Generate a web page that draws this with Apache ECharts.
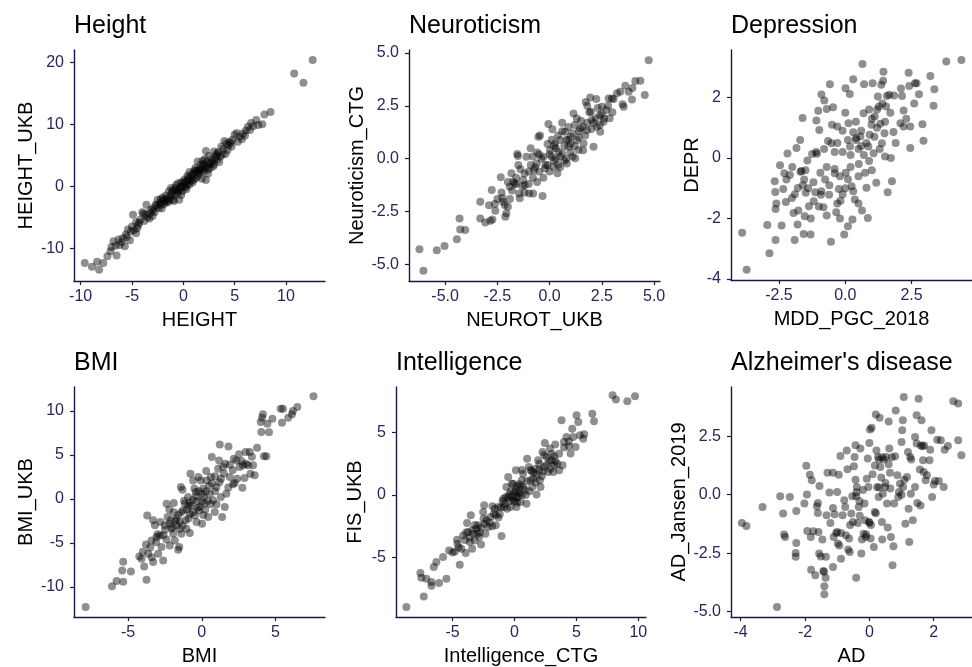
<!DOCTYPE html>
<html>
<head>
<meta charset="utf-8">
<script src="https://cdn.jsdelivr.net/npm/echarts@6/dist/echarts.min.js"></script>
<style>
  html, body { margin: 0; padding: 0; background: #fff; }
  #chart { width: 972px; height: 667px; }
</style>
</head>
<body>
<div id="chart"></div>
<script>
// panel titles and axis names
var panelTitles = ['Height', 'Neuroticism', 'Depression', 'BMI', 'Intelligence', "Alzheimer's disease"];
var xNames = ['HEIGHT', 'NEUROT_UKB', 'MDD_PGC_2018', 'BMI', 'Intelligence_CTG', 'AD'];
var yNames = ['HEIGHT_UKB', 'Neuroticism_CTG', 'DEPR', 'BMI_UKB', 'FIS_UKB', 'AD_Jansen_2019'];

// tick values
var xTicks = [[-10, -5, 0, 5, 10], [-5, -2.5, 0, 2.5, 5], [-2.5, 0, 2.5], [-5, 0, 5], [-5, 0, 5, 10], [-4, -2, 0, 2]];
var yTicks = [[-10, 0, 10, 20], [-5, -2.5, 0, 2.5, 5], [-4, -2, 0, 2], [-10, -5, 0, 5, 10], [-5, 0, 5], [-5, -2.5, 0, 2.5]];
var xDecimals = [0, 1, 1, 0, 0, 0];
var yDecimals = [0, 1, 0, 0, 0, 1];

// points
var heightPts = [
  [12.6,20.4],[10.8,18.2],[11.7,16.7],[8.5,12.0],[7.9,11.6],[7.1,10.7],[7.7,10.0],[6.3,9.6],[6.8,9.7],[7.3,9.9],[6.6,10.2],
  [5.0,8.3],[5.8,8.5],[5.5,8.0],[5.2,8.6],[6.0,8.2],[5.7,7.6],[4.2,6.9],[3.7,6.4],[4.5,7.2],[4.8,7.5],[4.0,7.3],[4.4,6.6],
  [3.9,6.0],[3.4,5.5],[3.2,5.0],[3.6,4.8],[3.0,5.6],[2.8,4.4],[2.5,4.9],[2.2,5.7],[2.6,3.6],[2.3,3.2],[1.9,4.1],[1.7,3.5],
  [1.5,2.7],[1.2,3.0],[1.0,2.2],[1.4,1.6],[2.0,2.4],[2.4,2.0],[1.8,1.2],[0.8,1.4],[0.5,1.0],[0.6,2.3],[0.2,0.4],[0.0,0.0],
  [-0.3,-0.2],[0.3,-0.5],[-0.5,0.5],[-0.8,-0.3],[-1.1,-1.0],[-0.6,-1.2],[-1.4,-0.8],[-1.0,-2.2],[-1.7,-1.5],[-2.0,-2.4],
  [-2.3,-2.7],[-1.5,-2.6],[-2.6,-3.1],[-2.1,-3.6],[-2.8,-4.2],[-3.2,-3.8],[-3.3,-5.2],[-3.7,-4.6],[-4.2,-5.4],[-3.9,-4.4],
  [-4.9,-4.6],[-4.6,-5.8],[-4.4,-6.3],[-4.8,-7.1],[-5.4,-7.0],[-4.6,-7.6],[-5.2,-8.7],[-5.9,-8.4],[-5.7,-9.7],[-6.2,-9.5],
  [-6.8,-8.9],[-7.1,-10.5],[-6.5,-11.2],[-7.4,-11.3],[-7.8,-12.4],[-8.4,-12.2],[-8.2,-13.5],[-8.9,-13.0],[-9.6,-12.4],
  [-6.3,-8.6],[-5.6,-7.8],[-5.1,-7.3],[0.9,0.6],[1.3,2.5],[1.6,2.0],[1.1,1.9],[0.4,0.2],[0.7,0.9],[-0.1,-0.8],[-0.2,0.6],
  [0.1,1.1],[-0.4,-0.6],[-0.9,-1.5],[-1.3,-1.9],[-1.6,-2.0],[-1.9,-2.9],[-2.4,-3.5],[-2.7,-3.0],[-3.0,-4.0],[-3.5,-5.0],
  [2.1,3.0],[2.7,3.8],[2.9,4.0],[3.1,4.6],[1.4,4.0],[2.1,4.4],[0.4,1.7],[-0.7,0.2],[-1.2,-0.3],[-2.0,-1.8],[-0.9,-2.4],
  [3.5,3.9],[4.1,5.2],[4.7,6.4],[-3.6,-3.0],[-4.0,-4.2],[-0.4,-2.2],[2.2,1.0],
  [-2.2,-2.1],[-1.8,-2.2],[-1.2,-1.4],[-0.7,-0.7],[-0.2,-0.1],[0.3,0.8],[0.8,1.9],[1.2,1.3],[1.7,2.6],[2.3,3.9],[2.6,2.9],
  [3.0,3.5],[3.3,4.3],[3.8,5.1],[4.3,5.8],[4.6,7.0],[5.3,7.2],[6.1,9.0],[6.5,9.1],[-3.3,-4.4],[-3.8,-5.6],[-4.3,-5.9],
  [-5.0,-6.5],[-5.5,-8.2],[-6.0,-9.0],[-6.6,-9.6],[-7.0,-9.8],[-2.9,-3.5],[-2.5,-2.2],[-1.4,-2.3],[-0.5,-0.9],[0.0,0.7],
  [0.6,0.3],[1.0,1.0],[1.5,2.3],[1.9,3.3],[2.4,2.7],[-1.0,-0.6],[-1.7,-2.6],[0.2,-0.2],[1.8,2.8],[2.0,3.6],[2.9,3.2],
  [3.3,5.3],[-3.0,-4.8],[-4.5,-6.8],[-0.2,-1.4],[0.5,1.4],[1.1,2.6],[-2.2,-3.0]
];
var neuroPts = [
  [-6.23,-4.28],[-6.04,-5.29],[-5.4,-4.33],[-5.03,-4.13],[-4.44,-3.81],[-4.31,-2.82],[-4.28,-3.34],[-4.04,-3.37],
  [-3.32,-2.03],[-3.32,-2.82],[-3.08,-3.02],[-2.84,-2.93],[-2.74,-2.87],[-2.77,-1.48],[-2.62,-2.14],[-2.6,-2.46],
  [-2.34,-0.88],[-2.26,-1.86],[-2.23,-2.03],[-2.15,-2.19],[-2.07,-2.58],[-2.12,-2.74],[-2.0,-2.27],[-1.91,-1.32],
  [-1.83,-0.69],[-1.75,-1.09],[-1.67,-1.17],[-1.55,0.22],[-1.52,0.13],[-1.46,-1.64],[-1.43,-1.87],[-1.27,-1.01],
  [-1.19,-1.24],[-1.11,0.09],[-0.98,-1.64],[-0.91,0.5],[-0.79,-1.64],[-0.75,-0.54],[-0.62,-0.22],[-0.54,1.04],
  [-0.46,1.1],[-0.34,-1.76],[-0.3,0.09],[-0.22,-0.46],[-0.06,1.64],[0.02,0.41],[0.1,0.09],[0.13,1.39],[0.18,-0.38],
  [0.26,0.72],[0.37,-0.69],[0.42,0.33],[0.5,0.88],[0.61,0.25],[0.74,1.28],[0.82,-0.22],[0.9,0.57],[1.01,1.04],
  [1.14,2.14],[1.22,0.02],[1.3,0.88],[1.38,0.41],[1.46,1.43],[1.62,0.72],[1.73,2.68],[1.78,1.35],[1.94,2.9],[1.97,2.22],
  [2.02,1.83],[2.1,0.57],[2.23,2.82],[2.26,1.51],[2.39,2.06],[2.42,1.28],[2.5,2.46],[2.58,1.75],[2.71,2.3],[2.82,2.85],
  [2.87,1.91],[2.98,2.85],[3.06,2.82],[3.22,3.09],[3.38,3.17],[3.49,2.57],[3.54,2.46],[3.62,3.45],[3.78,3.17],[3.94,2.8],
  [3.96,3.34],[4.1,3.67],[4.34,3.69],[4.55,3.01],[4.74,4.66],
  [0.0,0.2],[0.3,0.5],[-0.2,-0.3],[0.5,0.1],[0.7,0.6],[-0.5,-0.6],[0.2,-0.1],[0.9,0.9],[1.1,1.2],[-0.8,-0.9],[-1.0,-0.6],
  [-1.3,-1.3],[1.6,1.5],[1.8,1.7],[2.0,1.4],[0.6,1.3],[-0.1,0.7],[-0.4,0.0],[1.4,1.0],[-1.6,-1.2],[-1.2,-0.7],[0.4,-0.3],
  [1.0,0.3],[-0.6,0.3],[2.2,1.9],[2.5,2.1],[1.5,1.8],[-1.8,-1.5],[-2.0,-1.1],[-0.9,-0.3],[0.8,0.0],[1.2,0.6],
  [-2.3,-1.6],[-1.9,-1.9],[-1.6,-0.9],[-1.4,-0.5],[-1.0,-1.2],[-0.7,-0.4],[-0.5,0.2],[-0.3,-0.9],[-0.1,-0.3],[0.1,0.9],
  [0.3,0.0],[0.5,-0.4],[0.6,1.7],[0.8,0.9],[1.0,0.7],[1.2,1.6],[1.4,1.3],[1.7,1.1],[1.9,2.2],[2.1,1.7],[2.3,2.4],[2.6,1.9],
  [2.8,2.5],[3.0,2.2],[-1.2,-1.6],[-0.8,0.1],[0.0,-0.6],[0.4,1.1],[1.1,0.1],[1.6,0.4],[-2.5,-1.9],[-2.9,-2.2],[0.7,-0.1],
  [1.3,1.9],[-0.6,-1.1],[-1.5,-0.3],[0.2,0.6],[0.9,1.5],[1.8,2.5],[2.4,1.6]
];
var deprPts = [
  [-3.89,-2.47],[-3.72,-3.69],[-2.94,-2.21],[-2.86,-3.15],[-2.66,-0.77],[-2.64,-1.12],[-2.63,-1.68],[-2.63,-2.71],
  [-2.4,-2.23],[-2.46,-0.24],[-2.34,-1.02],[-2.24,-1.45],[-2.18,0.15],[-2.22,-0.71],[-2.09,-0.56],[-2.01,-1.32],
  [-1.95,-1.82],[-1.91,-2.71],[-1.84,0.33],[-1.79,-0.99],[-1.77,-1.73],[-1.69,-0.45],[-1.65,-0.43],[-1.61,1.32],
  [-1.57,-2.51],[-1.55,-0.71],[-1.53,-1.92],[-1.49,-1.15],[-1.43,-0.08],[-1.37,-1.59],[-1.31,-2.53],[-1.25,0.13],
  [-1.19,-1.43],[-1.13,-1.13],[-1.09,1.24],[-1.07,0.14],[-1.02,1.56],[-0.98,0.93],[-0.94,-0.49],[-0.92,-1.21],
  [-0.82,-1.63],[-0.79,1.9],[-0.76,-0.71],[-0.7,1.62],[-0.65,0.56],[-0.61,-1.21],[-0.58,2.44],[-0.54,-2.77],[-0.52,0.49],
  [-0.46,1.68],[-0.4,-0.36],[-0.34,-1.79],[-0.3,1.04],[-0.24,-1.02],[-0.18,-1.41],[-0.1,0.9],[-0.04,-2.53],[0.01,2.31],
  [0.02,-0.49],[0.1,-2.25],[0.12,1.15],[0.17,2.12],[0.18,0.38],[0.24,-0.93],[0.27,-2.03],[0.3,0.85],[0.36,-1.37],
  [0.41,0.66],[0.51,-0.2],[0.57,0.71],[0.63,-1.73],[0.65,3.11],[0.69,1.48],[0.71,2.44],[0.75,-0.49],[0.8,-0.98],
  [0.85,-1.98],[0.87,0.38],[0.92,0.77],[0.99,1.1],[1.03,2.47],[1.07,0.16],[1.11,1.37],[1.17,-0.82],[1.23,2.03],[1.27,1.7],
  [1.32,1.13],[1.36,2.42],[1.38,0.49],[1.43,2.55],[1.44,2.85],[1.48,0.82],[1.5,0.05],[1.54,1.7],[1.57,2.05],[1.6,-1.13],
  [1.66,2.09],[1.72,0.0],[1.76,-0.77],[1.82,0.86],[1.84,2.07],[2.08,1.15],[2.14,2.05],[2.2,1.57],[2.2,1.04],[2.39,2.82],
  [2.41,2.38],[2.45,1.04],[2.45,0.33],[2.63,2.47],[2.69,2.47],[2.78,2.11],[2.91,1.12],[2.95,0.57],[3.21,2.71],[3.33,1.73],
  [3.36,2.27],[3.81,3.19],[4.38,3.24],
  [0.4,0.6],[0.5,0.3],[0.2,0.1],[0.6,0.9],[-0.2,-0.6],[0.0,-1.0],[0.1,-0.7],[-0.1,-1.2],[0.3,-1.1],[-0.4,0.2],[-0.7,-0.3],
  [1.2,1.6],[1.0,1.3],[1.4,1.8],[0.8,0.5],[-1.1,0.2],[-1.4,-1.0],[-0.9,-1.1],[0.9,-0.1],[-0.3,-1.5],
  [-2.0,-0.3],[-1.7,0.6],[-1.5,-0.4],[-1.2,-0.8],[-1.0,-1.6],[-0.8,0.3],[-0.6,-0.9],[-0.5,1.1],[-0.3,0.5],[-0.1,0.2],
  [0.0,1.5],[0.2,-0.3],[0.4,1.2],[0.5,-0.6],[0.7,0.1],[0.9,1.6],[1.1,0.7],[1.3,0.3],[1.5,1.2],[1.7,1.5],[1.9,0.5],
  [2.1,2.3],[2.3,1.3],[-2.3,-0.5],[-2.6,-1.5],[-1.9,-1.2],[-1.3,-2.0],[-0.7,-1.9],[-0.2,-2.0],[0.5,-1.5],[1.0,-0.4],
  [0.3,2.6],[-0.9,2.1],[-1.8,-2.2],[2.6,1.8],[1.2,1.0],[0.1,0.6],[-0.4,-0.5],[0.6,0.4],[-1.6,-0.9]
];
var bmiPts = [
  [-7.88,-12.27],[-6.09,-9.92],[-5.78,-9.32],[-5.33,-9.39],[-5.4,-8.11],[-5.33,-7.12],[-4.81,-8.22],[-4.24,-6.52],
  [-4.09,-6.78],[-3.91,-7.65],[-3.75,-9.17],[-3.79,-5.15],[-3.7,-1.86],[-3.63,-6.21],[-3.41,-4.7],[-3.3,-2.42],
  [-3.3,-7.16],[-3.18,-2.99],[-3.07,-4.32],[-2.96,-6.21],[-2.84,-4.13],[-2.73,-5.45],[-2.62,-6.97],[-2.51,-2.99],
  [-2.39,-0.53],[-2.32,-2.05],[-2.17,-5.27],[-2.05,-3.37],[-1.94,-3.94],[-1.9,-0.45],[-1.83,-4.7],[-1.72,-2.23],
  [-1.6,-5.76],[-1.53,-5.45],[-1.49,-2.61],[-1.42,1.36],[-1.38,-3.94],[-1.31,1.06],[-1.26,-1.29],[-1.15,-0.53],
  [-1.04,-3.37],[-0.93,0.23],[-0.81,-3.86],[-0.77,2.88],[-0.7,-0.72],[-0.59,2.12],[-0.47,-1.86],[-0.41,0.8],[-0.36,-2.61],
  [-0.23,2.5],[-0.14,-0.91],[-0.07,2.12],[0.02,-2.8],[0.09,1.17],[0.14,0.23],[0.23,-1.21],[0.32,2.12],[0.43,-2.05],
  [0.54,0.61],[0.61,2.5],[0.68,4.77],[0.77,-0.15],[0.88,-1.48],[0.99,1.36],[1.11,3.45],[1.17,4.39],[1.22,6.21],[1.29,0.23],
  [1.38,-2.05],[1.44,3.64],[1.56,-0.91],[1.67,0.61],[1.81,5.98],[1.9,2.5],[2.12,1.67],[2.17,4.58],[2.23,1.82],[2.35,4.39],
  [2.53,5.08],[2.57,3.64],[2.75,1.29],[2.8,3.83],[2.98,5.34],[3.14,3.83],[3.25,5.34],[3.3,2.88],[3.48,3.83],[3.59,2.69],
  [3.75,5.83],[4.0,8.75],[4.04,7.61],[4.09,9.24],[4.15,9.62],[4.22,4.85],[4.38,4.85],[4.45,8.56],[4.56,7.58],[4.79,9.13],
  [5.35,10.27],[5.44,8.67],[5.51,10.27],[5.87,9.24],[6.12,9.62],[6.18,10.0],[6.48,10.45],[7.58,11.67],
  [-1.0,-1.2],[-0.6,-1.5],[-0.3,-0.2],[-1.8,-2.5],[-2.2,-2.8],[-1.6,-1.8],[-0.9,-2.2],[0.2,-0.5],[-0.4,0.3],[0.5,1.5],
  [0.9,2.6],[-2.6,-4.1],[-3.1,-4.9],[-2.0,-3.2],[-1.3,-3.0],[0.0,0.6],[1.3,2.3],[0.3,3.2],[-0.2,-1.3],[-0.8,-0.4],
  [-3.0,-4.0],[-2.5,-3.5],[-2.1,-2.4],[-1.7,-3.0],[-1.4,-1.5],[-1.1,-2.4],[-0.9,-0.8],[-0.6,-0.1],[-0.3,-1.0],[0.0,-0.3],
  [0.3,0.9],[0.6,-0.6],[0.9,0.9],[1.2,1.9],[1.5,2.9],[1.8,1.3],[2.1,3.3],[2.4,2.3],[2.7,4.3],[3.0,4.0],[3.4,4.8],
  [-4.0,-6.0],[-3.5,-5.5],[-2.8,-2.6],[-2.4,-4.6],[-1.9,-1.5],[-1.2,-0.2],[-0.5,1.2],[0.1,-1.8],[0.7,1.8],[1.0,-0.6],
  [1.6,4.0],[-0.8,-1.7],[-1.5,-3.4],[0.4,-0.2],[1.9,3.9],[-2.2,-1.2],[-0.2,0.9],[2.9,2.4],[-3.4,-6.6]
];
var intelPts = [
  [-8.73,-8.98],[-7.33,-8.13],[-7.6,-6.26],[-7.52,-6.63],[-7.12,-6.71],[-6.71,-6.98],[-6.71,-7.27],[-6.52,-5.78],
  [-6.31,-5.37],[-6.09,-7.06],[-5.77,-4.97],[-5.5,-6.71],[-5.28,-4.44],[-4.82,-4.52],[-4.64,-3.58],[-4.42,-5.59],
  [-4.29,-4.3],[-4.15,-3.24],[-3.94,-4.65],[-3.83,-2.25],[-3.75,-2.97],[-3.61,-3.77],[-3.53,-1.63],[-3.42,-4.3],
  [-3.34,-3.1],[-3.21,-3.64],[-3.07,-2.7],[-2.94,-2.43],[-2.86,-3.37],[-2.7,-3.96],[-2.53,-1.36],[-2.45,-0.83],
  [-2.35,-3.1],[-2.26,-2.03],[-2.13,-2.57],[-1.94,-1.76],[-1.78,-0.91],[-1.67,-1.5],[-1.51,-2.43],[-1.32,-0.96],
  [-1.19,-1.55],[-1.05,-3.29],[-0.97,-0.48],[-0.84,-0.96],[-0.7,-0.16],[-0.65,0.64],[-0.51,1.44],[-0.43,0.05],
  [-0.32,-0.96],[-0.22,0.91],[-0.11,-0.37],[0.0,0.24],[0.11,1.98],[0.16,-0.96],[0.27,-0.16],[0.38,0.86],[0.49,-0.56],
  [0.59,1.18],[0.7,1.71],[0.84,0.43],[0.97,-0.7],[1.02,2.91],[1.16,2.25],[1.29,1.18],[1.43,0.64],[1.56,1.76],[1.7,2.11],
  [1.78,0.05],[1.91,2.78],[2.05,1.18],[2.1,0.64],[2.26,3.45],[2.37,2.25],[2.45,4.17],[2.59,3.05],[2.72,1.84],[2.86,3.72],
  [2.99,2.78],[3.13,1.84],[3.21,2.38],[3.29,4.06],[3.45,2.51],[3.61,1.98],[3.8,5.99],[3.88,2.38],[3.99,4.25],[4.2,4.65],
  [4.39,3.9],[4.53,3.32],[4.66,5.32],[4.74,4.65],[4.93,3.85],[5.01,6.39],[5.15,5.86],[5.28,4.79],[5.55,4.52],[5.63,4.87],
  [6.28,6.52],[6.42,5.91],[7.92,7.99],[8.19,7.65],[9.11,7.51],[9.73,7.91],
  [0.1,0.4],[-0.2,-0.1],[0.3,0.2],[-0.4,-0.5],[0.5,0.7],[0.2,-0.6],[-0.1,0.9],[0.6,0.0],[1.8,1.6],[2.0,2.0],[2.2,1.5],
  [2.8,2.7],[3.2,3.1],[-3.0,-3.1],[-3.4,-2.8],[-2.7,-2.6],[-1.5,-1.6],[-1.1,-1.0],[-0.9,-0.3],[1.4,1.9],
  [-4.5,-4.2],[-4.0,-3.6],[-3.6,-3.4],[-3.2,-2.4],[-2.8,-3.0],[-2.4,-2.3],[-2.0,-2.2],[-1.6,-1.1],[-1.3,-1.8],[-0.8,-0.7],
  [-0.5,-0.2],[-0.3,0.3],[0.0,-0.5],[0.2,0.7],[0.4,0.1],[0.7,0.6],[1.0,1.1],[1.2,0.3],[1.5,1.3],[1.7,1.0],[2.0,2.5],
  [2.3,1.9],[2.6,2.4],[2.9,2.1],[3.3,2.7],[3.6,3.3],[4.0,3.8],[4.4,4.3],[-5.0,-4.6],[-3.9,-3.0],[-2.5,-1.9],[-1.8,-2.5],
  [-0.6,-1.1],[0.1,-0.2],[0.6,2.0],[1.3,2.0],[2.4,3.2],[-4.6,-3.9],[0.9,0.0],[3.0,3.3]
];
var adPts = [
  [-3.96,-1.21],[-3.82,-1.34],[-3.32,-0.53],[-2.77,-0.07],[-2.68,-0.81],[-2.65,-1.7],[-2.62,-1.81],[-2.47,-0.1],
  [-2.27,-0.7],[-2.27,-2.07],[-2.29,-2.49],[-2.29,-2.66],[-2.02,-0.38],[-1.96,1.23],[-1.94,0.01],[-1.93,-1.55],
  [-1.85,0.85],[-1.82,-1.81],[-1.81,-3.21],[-1.79,0.61],[-1.74,-1.57],[-1.68,-3.45],[-1.63,-0.5],[-1.6,-0.78],
  [-1.6,-0.36],[-1.58,-1.6],[-1.56,-2.52],[-1.55,0.37],[-1.51,-2.64],[-1.46,-1.92],[-1.43,-3.26],[-1.41,-3.3],
  [-1.4,-3.92],[-1.4,-4.26],[-1.36,-3.55],[-1.35,-2.66],[-1.33,-0.88],[-1.3,0.94],[-1.24,0.09],[-1.21,-1.21],
  [-1.13,-0.57],[-1.13,-3.09],[-1.13,0.93],[-1.11,-1.81],[-1.08,-0.84],[-1.03,-1.64],[-1.0,0.11],[-0.98,-2.09],
  [-0.95,0.85],[-0.93,-2.17],[-0.9,1.65],[-0.88,-2.74],[-0.88,-1.64],[-0.83,-0.88],[-0.78,-0.24],[-0.75,-0.53],
  [-0.73,-1.74],[-0.7,1.89],[-0.68,1.08],[-0.66,-2.35],[-0.63,-1.88],[-0.61,-2.45],[-0.56,-0.81],[-0.53,-0.07],
  [-0.51,-1.17],[-0.48,1.21],[-0.46,1.61],[-0.43,2.11],[-0.43,0.64],[-0.41,-0.07],[-0.41,-3.55],[-0.39,0.33],
  [-0.36,-1.21],[-0.33,-0.53],[-0.31,-0.27],[-0.28,1.97],[-0.25,-2.52],[-0.23,-1.92],[-0.18,-1.67],[-0.15,-0.38],
  [-0.13,-1.1],[-0.11,-1.81],[-0.08,0.68],[-0.05,1.54],[-0.03,0.33],[-0.01,-1.17],[0.0,2.21],[0.02,2.78],[0.04,-1.88],
  [0.07,2.86],[0.1,0.87],[0.14,-2.24],[0.17,1.25],[0.17,-0.74],[0.2,3.43],[0.22,1.89],[0.24,0.33],[0.27,1.61],[0.29,-0.1],
  [0.32,3.29],[0.34,1.18],[0.37,0.73],[0.39,-1.17],[0.4,-1.92],[0.42,0.04],[0.45,1.5],[0.49,0.33],[0.52,1.61],[0.55,-0.38],
  [0.57,-1.41],[0.6,3.13],[0.62,1.97],[0.64,0.93],[0.65,0.26],[0.67,-1.81],[0.72,-3.02],[0.75,-2.21],[0.77,-0.38],
  [0.8,1.64],[0.82,3.6],[0.87,0.83],[0.92,0.11],[0.95,0.47],[1.0,2.25],[1.02,2.75],[1.04,3.18],[1.05,0.33],[1.07,4.17],
  [1.09,0.64],[1.12,-1.24],[1.17,0.75],[1.2,1.82],[1.22,-0.6],[1.24,-2.02],[1.27,1.61],[1.29,0.04],[1.35,-1.1],[1.42,2.46],
  [1.42,0.33],[1.47,3.39],[1.47,2.18],[1.49,-0.36],[1.53,4.1],[1.57,1.07],[1.59,-0.46],[1.62,3.18],[1.65,2.07],[1.67,1.47],
  [1.69,0.97],[1.75,0.61],[1.79,0.83],[1.87,1.47],[1.89,1.92],[1.93,2.75],[1.95,-0.1],[2.0,0.43],[2.04,0.58],[2.11,2.35],
  [2.16,0.58],[2.22,2.32],[2.31,0.33],[2.34,1.92],[2.44,2.08],[2.61,3.99],[2.76,3.89],[2.76,2.32],[2.86,1.68],
  [-2.87,-4.8],
  [-0.2,0.2],[-0.4,0.1],[0.0,-1.2],[0.05,-1.3],[0.3,1.5],[0.4,1.6],[0.6,1.3],[0.7,1.6],[-0.3,-0.9],[1.0,0.0],[0.9,-0.1],
  [-0.6,-1.3],[0.2,-0.8],[1.3,1.5],[1.6,2.1],[1.7,2.1],[-1.0,-1.6],[0.5,0.5],[-0.1,-1.7],[0.3,0.3]
];

var panelData = [heightPts, neuroPts, deprPts, bmiPts, intelPts, adPts];

// layout of each panel: grid box in px and axis extents
var layout = [
  {left: 74,  top: 50,  width: 251, height: 231, x: [-10.65, 13.8], y: [-15.3, 22.0], yGap: 38},
  {left: 409, top: 50,  width: 251, height: 231, x: [-6.73, 5.28],  y: [-5.78, 5.14], yGap: 36},
  {left: 731, top: 50,  width: 250, height: 230, x: [-4.31, 4.78],  y: [-4.03, 3.57], yGap: 29},
  {left: 74,  top: 387, width: 251, height: 230, x: [-8.67, 8.36],  y: [-13.4, 12.73], yGap: 38},
  {left: 396, top: 387, width: 250, height: 230, x: [-9.57, 10.62], y: [-9.78, 8.66], yGap: 31},
  {left: 731, top: 387, width: 250, height: 230, x: [-4.3, 3.19],   y: [-5.23, 4.6],  yGap: 42}
];

var axisColor = '#1c1648';
var tickTextColor = '#2b2459';
var fontFamily = '"Liberation Sans", Arial, sans-serif';

function fmt(d) {
  return function (v) { return Number(v).toFixed(d); };
}

var grids = [], xAxes = [], yAxes = [], series = [], titles = [];

layout.forEach(function (p, i) {
  grids.push({left: p.left, top: p.top, width: p.width, height: p.height, containLabel: false});
  titles.push({
    text: panelTitles[i], left: p.left, top: p.top - 36, padding: 0,
    textStyle: {fontFamily: fontFamily, fontSize: 25, fontWeight: 'normal', color: '#000'}
  });
  xAxes.push({
    type: 'value', gridIndex: i, min: p.x[0], max: p.x[1],
    name: xNames[i], nameLocation: 'middle', nameGap: 29,
    nameTextStyle: {fontFamily: fontFamily, fontSize: 20, color: '#000'},
    axisLine: {show: true, onZero: false, lineStyle: {color: axisColor, width: 1.4}},
    axisTick: {show: true, length: 4, customValues: xTicks[i], lineStyle: {color: axisColor, width: 1.2}},
    axisLabel: {customValues: xTicks[i], formatter: fmt(xDecimals[i]), margin: 8,
      fontFamily: fontFamily, fontSize: 16, color: tickTextColor},
    splitLine: {show: false}
  });
  yAxes.push({
    type: 'value', gridIndex: i, min: p.y[0], max: p.y[1],
    name: yNames[i], nameLocation: 'middle', nameGap: p.yGap,
    nameTextStyle: {fontFamily: fontFamily, fontSize: 20, color: '#000'},
    axisLine: {show: true, onZero: false, lineStyle: {color: axisColor, width: 1.4}},
    axisTick: {show: true, length: 4, customValues: yTicks[i], lineStyle: {color: axisColor, width: 1.2}},
    axisLabel: {customValues: yTicks[i], formatter: fmt(yDecimals[i]), margin: 10,
      fontFamily: fontFamily, fontSize: 16, color: tickTextColor},
    splitLine: {show: false}
  });
  series.push({
    type: 'scatter', xAxisIndex: i, yAxisIndex: i,
    data: panelData[i], symbol: 'circle', symbolSize: 8,
    itemStyle: {color: 'rgba(0,0,0,0.55)'},
    silent: true
  });
});

var myChart = echarts.init(document.getElementById('chart'), null, {renderer: 'canvas'});
myChart.setOption({
  animation: false,
  backgroundColor: '#fff',
  title: titles,
  grid: grids,
  xAxis: xAxes,
  yAxis: yAxes,
  series: series
});
</script>
</body>
</html>
